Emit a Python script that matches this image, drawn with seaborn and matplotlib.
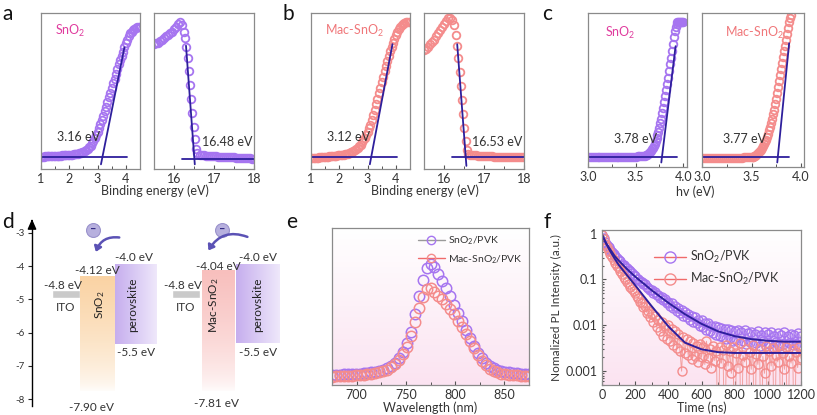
import numpy as np
import matplotlib
matplotlib.use("Agg")
import matplotlib.pyplot as plt
import seaborn as sns
from matplotlib.lines import Line2D
from matplotlib.patches import FancyArrowPatch
from matplotlib.colors import LinearSegmentedColormap
from matplotlib.ticker import MultipleLocator, NullFormatter

sns.set_theme(style="white")
plt.rcParams['font.family'] = ['Lato', 'DejaVu Sans']
plt.rcParams['mathtext.default'] = 'regular'

PURPLE = "#A675F0"
PINK = "#F48C8C"
FIT = "#2E1F9C"
MAGENTA = "#E03C9E"
SALMON = "#F0777A"
TXT = "#333333"
SPINE = "#8a8a8a"
W, H = 817, 415

# ---------------- data ----------------
# a/b: UPS valence band edge (left, 1.00..4.50 eV every 0.05)
be_low = np.round(np.arange(1.0, 4.501, 0.05), 2)
a_low = [.080, .080, .080, .081, .081, .082, .082, .083, .083, .084, .084, .085, .085, .086,
         .086, .087, .088, .088, .089, .09, .09, .091, .092, .093, .095, .097, .099,
         .102, .105, .108, .112, .117, .123, .13, .14, .15, .165, .18, .2, .22, .24, .265,
         .29, .315, .34, .37, .4, .43, .46, .49, .52, .55, .58, .61, .64, .67, .7, .725,
         .75, .78, .81, .83, .85, .87, .88, .89, .9, .905, .91, .91, .91]
b_low = [.07, .07, .07, .071, .072, .073, .074, .075, .076, .077, .078, .079, .08, .081,
         .082, .083, .084, .085, .086, .087, .088, .089, .09, .092, .094, .096, .099,
         .102, .106, .11, .115, .12, .127, .135, .145, .157, .17, .185, .2, .215, .235, .26,
         .285, .315, .345, .38, .415, .45, .485, .52, .555, .59, .625, .66, .695, .725, .755,
         .785, .81, .835, .86, .88, .895, .91, .92, .93, .935, .94, .94, .94, .94]
# secondary electron cutoff (right)
a_be_high = np.round(np.concatenate([np.arange(15.5, 16.26, 0.05), np.arange(16.28, 16.59, 0.03),
                                     np.arange(16.65, 18.01, 0.05)]), 2)
a_high = [.8, .805, .81, .82, .83, .84, .85, .86, .87, .88, .895, .91, .93, .94, .92, .88,
          .84, .78, .71, .63, .54, .45, .36, .27, .19, .13, .1,
          .09, .088, .087, .086, .085, .084, .083, .082, .081, .08, .08, .079, .078, .077,
          .076, .076, .075, .074, .073, .072, .072, .071, .07, .07, .069, .068, .067, .066]
b_be_high = np.round(np.concatenate([np.arange(15.5, 16.26, 0.05), np.arange(16.30, 16.61, 0.03),
                                     np.arange(16.65, 18.01, 0.05)]), 2)
b_high = [.76, .77, .785, .8, .815, .83, .85, .87, .89, .91, .93, .95, .965, .97, .955, .92,
          .86, .79, .71, .62, .53, .44, .35, .26, .18, .12, .095,
          .09, .089, .088, .087, .086, .085, .085, .084, .083, .082, .082, .081, .08, .08,
          .079, .079, .078, .078, .077, .077, .076, .076, .076, .075, .075, .075, .075, .075]
# fitted tangents [x0, x1], [y0, y1]
a_fit_low = ([3.12, 3.95], [0.03, 0.78]); a_base_low = ([1.0, 4.05], [0.075, 0.075])
a_fit_high = ([16.3, 16.52], [0.79, 0.03]); a_base_high = ([16.2, 18.0], [0.065, 0.065])
b_fit_low = ([3.08, 3.88], [0.03, 0.8]); b_base_low = ([1.0, 4.05], [0.08, 0.08])
b_fit_high = ([16.33, 16.56], [0.8, 0.02]); b_base_high = ([16.2, 18.0], [0.075, 0.075])

# c: Tauc plots
hv_sno2 = np.round(np.concatenate([np.arange(3.0, 3.59, 0.02), np.arange(3.60, 4.001, 0.01)]), 2)
ahv_sno2 = [.063, .063, .063, .063, .063, .063, .063, .064, .064, .064, .064, .064, .064, .065, .065,
            .065, .065, .065, .066, .066, .066, .067, .067, .068, .068, .069, .07, .071, .072, .073,
            .075, .078, .082, .087, .093, .1, .108, .117, .127, .14, .155, .172, .19, .21, .235, .26,
            .29, .32, .355, .39, .43, .47, .51, .55, .59, .635, .68, .725, .77, .815, .86, .9, .93, .95,
            .96, .96, .96, .96, .96, .96, .96]
hv_mac = np.round(np.concatenate([np.arange(3.0, 3.501, 0.02), np.arange(3.51, 3.901, 0.01)]), 2)
ahv_mac = [.058, .058, .058, .058, .058, .059, .059, .059, .059, .059, .06, .06, .06, .06, .06, .061,
           .061, .061, .062, .062, .062, .063, .063, .064, .064, .065,
           .065, .068, .071, .075, .08, .085, .09, .097, .105, .115, .125, .137, .15, .165, .18, .2,
           .22, .243, .265, .29, .32, .35, .38, .415, .45, .49, .53, .57, .61, .65, .69, .73, .77,
           .8, .84, .88, .92, .96, .99, 1.01]
c_fit_sno2 = ([3.77, 3.92], [0.03, 0.8]); c_base_sno2 = ([3.0, 3.93], [0.065, 0.065])
c_fit_mac = ([3.76, 3.88], [0.03, 0.82]); c_base_mac = ([3.0, 3.88], [0.065, 0.065])

# d: energy levels (drawn positions, eV)
ito_x = [[52, 80], [172, 200]]; ito_level = [-4.72, -4.96]
etl_x = [[80, 115], [202, 235]]; etl_top = [-4.33, -4.14]; etl_bot = [-7.8, -7.8]
pvk_x = [[115, 157], [236, 280]]; pvk_top = [-3.96, -3.96]; pvk_bot = [-6.34, -6.31]
etl_cols = ["#FAD3A4", "#F8BFBD"]
etl_names = ["SnO$_2$", "Mac-SnO$_2$"]
cb_labels = ["-4.12 eV", "-4.04 eV"]
vb_labels = ["-7.90 eV", "-7.81 eV"]

# e: steady-state PL (675..875 nm every 4 nm)
wl = np.arange(675, 876, 4)
pl_sno2 = [.064, .065, .066, .068, .069, .07, .072, .073, .075, .077, .08, .084, .09, .098, .108,
           .122, .142, .17, .21, .265, .34, .45, .57, .67, .745, .77, .75, .71, .665, .615, .565,
           .51, .46, .405, .35, .3, .25, .205, .17, .142, .122, .108, .098, .09, .084, .08, .077,
           .074, .072, .07, .068]
pl_mac = [.054, .055, .056, .057, .058, .06, .061, .063, .065, .067, .07, .074, .08, .088, .098,
          .112, .132, .16, .195, .245, .31, .4, .49, .56, .61, .62, .595, .57, .545, .515, .485,
          .45, .41, .37, .325, .28, .235, .19, .155, .125, .105, .09, .08, .073, .068, .065, .062,
          .061, .06, .059, .058]

# f: TRPL (0..1200 ns every 10 ns)
t_ns = np.arange(0, 1201, 10)
trpl_sno2 = [.95, .8, .66, .57, .5, .44, .4, .36, .32, .3,
             .27, .25, .22, .21, .19, .175, .16, .15, .14, .125,
             .12, .105, .1, .095, .088, .08, .078, .07, .066, .06,
             .06, .052, .053, .045, .046, .04, .042, .035, .037, .031,
             .033, .027, .03, .024, .027, .021, .024, .019, .022, .016,
             .02, .015, .018, .013, .016, .012, .015, .011, .013, .0095,
             .013, .009, .011, .0078, .011, .0075, .0098, .0068, .0095, .0062,
             .009, .006, .0088, .0055, .0082, .005, .0085, .0052, .0078, .0046,
             .0075, .0048, .008, .0042, .0072, .0045, .0078, .004, .0068, .0044,
             .0072, .0038, .0065, .0042, .0075, .0036, .0062, .0045, .007, .0035,
             .0066, .004, .0072, .0034, .006, .0043, .0068, .0036, .0062, .004,
             .0071, .0033, .0058, .0042, .0066, .0037, .0063, .0039, .0067, .0035, .006]
trpl_mac = [.95, .75, .6, .5, .42, .36, .31, .27, .23, .2,
            .18, .15, .135, .115, .1, .09, .08, .07, .062, .055,
            .05, .043, .04, .033, .031, .025, .026, .019, .021, .015,
            .018, .012, .016, .009, .013, .0075, .012, .006, .0095, .005,
            .01, .0045, .0085, .0038, .0075, .0032, .0065, .0028, .001, .0055,
            .0025, .005, .0022, .0045, .0018, .0042, .0021, .0036, .0016, .0039,
            .002, .0034, .0014, .0045, .0019, .003, .0012, .0036, .0017, .0028,
            1e-5, .0033, .0015, .0029, 1e-5, .0038, .0013, .0027, .0009, .0034,
            1e-5, .0025, .0012, .0041, 1e-5, .0022, .0016, .0031, 1e-5, .0026,
            .0011, .0037, 1e-5, .0024, .0014, .003, 1e-5, .0021, .0009, .0035,
            1e-5, .0027, .0013, .0032, 1e-5, .0023, .0016, .0038, 1e-5, .0025,
            .0011, .0033, 1e-5, .0021, .0015, .003, 1e-5, .0026, .0012, .0034, .0019]
t_fit = [0, 25, 50, 75, 100, 150, 200, 250, 300, 400, 500, 600, 700, 800, 900, 1000, 1100, 1200]
fit_sno2 = [.95, .62, .45, .33, .26, .17, .115, .082, .058, .031, .0175, .0108, .0074, .0058, .005, .0046, .0044, .0044]
fit_mac = [.95, .6, .41, .29, .21, .125, .075, .044, .026, .0095, .0042, .003, .0026, .0025, .0025, .0025, .0025, .0025]

# ---------------- helpers ----------------
fig = plt.figure(figsize=(W / 100, H / 100), dpi=100)


def add_ax(x0, y0, x1, y1, **kw):
    return fig.add_axes([x0 / W, 1 - y1 / H, (x1 - x0) / W, (y1 - y0) / H], **kw)


def frame(ax):
    for s in ax.spines.values():
        s.set_color(SPINE)
        s.set_linewidth(0.9)
    ax.tick_params(axis="x", direction="in", length=3, width=0.8, color="#555555",
                   labelsize=9, labelcolor=TXT, pad=3, bottom=True)
    ax.tick_params(axis="x", which="minor", direction="in", length=2, width=0.7,
                   color="#555555", bottom=True)
    ax.set_yticks([])
    ax.patch.set_alpha(0)


def rings(ax, x, y, color, ms=5.5, mew=1.3, line=None):
    sns.lineplot(x=x, y=y, ax=ax, color=line if line else color, marker="o",
                 linestyle="-" if line else "none", lw=0.7, mfc="none", mec=color,
                 ms=ms, mew=mew, errorbar=None)


def fitline(ax, xy, lw=1.3):
    sns.lineplot(x=xy[0], y=xy[1], ax=ax, color=FIT, lw=lw, errorbar=None)


def gradient_bg(x0, y0, x1, y1):
    bg = add_ax(x0, y0, x1, y1, zorder=-1)
    cm = LinearSegmentedColormap.from_list("bg", ["#FFFFFF", "#FBE3F1"])
    bg.imshow(np.linspace(0, 1, 100)[:, None], cmap=cm, aspect="auto",
              extent=[0, 1, 0, 1], origin="upper")
    bg.axis("off")


# ---------------- a & b ----------------
panels_ab = [
    (0, a_low, a_be_high, a_high, PURPLE, "SnO$_2$", MAGENTA, "3.16 eV", "16.48 eV",
     a_fit_low, a_base_low, a_fit_high, a_base_high),
    (270, b_low, b_be_high, b_high, PINK, "Mac-SnO$_2$", SALMON, "3.12 eV", "16.53 eV",
     b_fit_low, b_base_low, b_fit_high, b_base_high),
]
for off, ylow, xhigh, yhigh, col, name, ncol, t1, t2, fl, bl, fh, bh in panels_ab:
    axl = add_ax(41 + off, 13, 140 + off, 169)
    axr = add_ax(154 + off, 13, 254 + off, 169)
    for ax in (axl, axr):
        frame(ax)
        ax.set_ylim(0, 1.0)
    rings(axl, be_low, ylow, col)
    fitline(axl, fl)
    fitline(axl, bl)
    axl.set_xlim(1, 4.5)
    axl.xaxis.set_major_locator(MultipleLocator(1))
    axl.xaxis.set_minor_locator(MultipleLocator(0.5))
    rings(axr, xhigh, yhigh, col)
    fitline(axr, fh)
    fitline(axr, bh)
    axr.set_xlim(15.5, 18)
    axr.set_xticks([16, 17, 18])
    axr.xaxis.set_minor_locator(MultipleLocator(0.5))
    axl.set_ylabel("Intensity (a.u.)", fontsize=8.5, color=TXT, labelpad=3)
    axl.set_xlabel("")
    axr.set_xlabel("")
    axr.set_ylabel("")
    axl.text(1.5, 0.86, name, color=ncol, fontsize=9)
    axl.text(1.55, 0.18, t1, color=TXT, fontsize=9)
    axr.text(16.7, 0.15, t2, color=TXT, fontsize=9)
    fig.text((155 + off) / W, 1 - 191 / H, "Binding energy (eV)", ha="center",
             va="center", fontsize=9, color=TXT)

# ---------------- c ----------------
axc1 = add_ax(588, 13, 687, 167)
axc2 = add_ax(702, 13, 804, 167)
for ax, x, y, col, name, ncol, fit, base, lab, xmax in [
        (axc1, hv_sno2, ahv_sno2, PURPLE, "SnO$_2$", MAGENTA, c_fit_sno2, c_base_sno2, "3.78 eV", 4.04),
        (axc2, hv_mac, ahv_mac, PINK, "Mac-SnO$_2$", SALMON, c_fit_mac, c_base_mac, "3.77 eV", 4.03)]:
    frame(ax)
    rings(ax, x, y, col)
    fitline(ax, fit)
    fitline(ax, base)
    ax.set_xlim(3.0, xmax)
    ax.set_ylim(0, 1.02)
    ax.set_xticks([3.0, 3.5, 4.0])
    ax.set_xticklabels(["3.0", "3.5", "4.0"])
    ax.xaxis.set_minor_locator(MultipleLocator(0.25))
    ax.set_xlabel("")
    ax.set_ylabel("")
    ax.text(3.18 if ax is axc1 else 3.23, 0.86, name, color=ncol, fontsize=9)
    ax.text(3.27 if ax is axc1 else 3.21, 0.16, lab, color=TXT, fontsize=9)
axc1.set_ylabel("(αhv)² (a.u.)", fontsize=8.5, color=TXT, labelpad=3)
fig.text(695 / W, 1 - 192 / H, "hv (eV)", ha="center", va="center", fontsize=9, color=TXT)

# ---------------- d ----------------
axd = add_ax(0, 205, 280, 415)
axd.patch.set_alpha(0)
for s in ["top", "right", "bottom"]:
    axd.spines[s].set_visible(False)
axd.spines["left"].set_position(("data", 32))
axd.spines["left"].set_bounds(-8.2, -2.7)
axd.spines["left"].set_color("black")
axd.spines["left"].set_linewidth(1.0)
axd.set_xticks([])
axd.set_yticks([-3, -4, -5, -6, -7, -8])
axd.set_yticklabels(["-3", "-4", "-5", "-6", "-7", "-8"])
axd.tick_params(axis="y", direction="out", length=3, width=0.8, labelsize=7,
                labelcolor=TXT, left=True, pad=2)
axd.annotate("", xy=(32, -2.5), xytext=(32, -2.75),
             arrowprops=dict(arrowstyle="-|>,head_length=0.5,head_width=0.22",
                             color="black", lw=1.0))

for i in range(2):
    # ITO
    axd.bar((ito_x[i][0] + ito_x[i][1]) / 2, ito_level[1] - ito_level[0],
            bottom=ito_level[0], width=ito_x[i][1] - ito_x[i][0], color="#CACACA",
            zorder=2)
    # ETL vertical fade
    cm = LinearSegmentedColormap.from_list("etl", ["#FFFFFF", etl_cols[i]])
    axd.imshow(np.linspace(1, 0, 100)[:, None] ** 0.6, cmap=cm, aspect="auto",
               extent=[etl_x[i][0], etl_x[i][1], etl_bot[i], etl_top[i]],
               origin="upper", zorder=2, vmin=0, vmax=1)
    # perovskite horizontal fade
    cm2 = LinearSegmentedColormap.from_list("pvk", ["#F3EEFC", "#C6AEEE"])
    axd.imshow(np.linspace(1, 0.1, 100)[None, :], cmap=cm2, aspect="auto",
               extent=[pvk_x[i][0], pvk_x[i][1], pvk_bot[i], pvk_top[i]],
               origin="upper", zorder=2, vmin=0, vmax=1)
    xc_etl = (etl_x[i][0] + etl_x[i][1]) / 2
    xc_pvk = (pvk_x[i][0] + pvk_x[i][1]) / 2
    xc_ito = (ito_x[i][0] + ito_x[i][1]) / 2
    axd.text(xc_ito - 3, -4.57, "-4.8 eV", ha="center", va="center", fontsize=8.5, color=TXT, zorder=3)
    axd.text(xc_ito, -5.23, "ITO", ha="center", va="center", fontsize=8.5, color=TXT, zorder=3)
    axd.text(xc_etl, etl_top[i] + 0.19 if i == 0 else -4.0, cb_labels[i], ha="center",
             va="center", fontsize=8.5, color=TXT, zorder=3)
    axd.text(xc_pvk - (2 if i == 0 else 0), -3.75, "-4.0 eV", ha="center", va="center",
             fontsize=8.5, color=TXT, zorder=3)
    axd.text(xc_pvk, -6.61, "-5.5 eV", ha="center", va="center", fontsize=8.5, color=TXT, zorder=3)
    axd.text(xc_etl - 6 if i == 0 else xc_etl - 2, -8.24 if i == 0 else -8.12, vb_labels[i],
             ha="center", va="center", fontsize=8.5, color=TXT, zorder=3)
    axd.text(xc_etl + (3 if i == 0 else -4), -5.17, etl_names[i], rotation=90, ha="center",
             va="center", fontsize=8.5, color="#222222", zorder=3)
    axd.text(xc_pvk - (3 if i == 0 else 0), -5.17, "perovskite", rotation=90, ha="center",
             va="center", fontsize=8.5, color="#222222", zorder=3)

# electrons and transfer arrows
e_pos = [(93, -2.91), (222, -2.91)]
arrows = [((122, -3.15), (95, -3.65)), ((250, -3.15), (207, -3.6))]
for (ex, ey), (p0, p1) in zip(e_pos, arrows):
    axd.plot(ex, ey, "o", ms=10, mfc="#B7B0DE", mec="#9A92CC", mew=0.8, zorder=4)
    axd.text(ex, ey + 0.02, "–", ha="center", va="center", fontsize=8, color="#2E2680", zorder=5,
             fontweight="bold")
    axd.add_patch(FancyArrowPatch(p0, p1, connectionstyle="arc3,rad=0.45",
                                  arrowstyle="-|>,head_length=3,head_width=2.2",
                                  color="#5B52B5", lw=1.8, zorder=4))
axd.set_xlim(0, 280)
axd.set_ylim(-8.48, -2.16)

# ---------------- e ----------------
gradient_bg(332, 228, 529, 385)
axe = add_ax(332, 228, 529, 385)
frame(axe)
rings(axe, wl, pl_sno2, PURPLE, ms=7.5, mew=1.1)
rings(axe, wl, pl_mac, PINK, ms=7.5, mew=1.1)
axe.set_xlim(675, 875)
axe.set_ylim(0, 1.0)
axe.set_xticks([700, 750, 800, 850])
axe.xaxis.set_minor_locator(MultipleLocator(25))
axe.set_xlabel("Wavelength (nm)", fontsize=9, color=TXT, labelpad=0)
axe.set_ylabel("PL Intensity (a.u.)", fontsize=8.5, color=TXT, labelpad=4)
h_e = [Line2D([], [], color="#9A9A9A", lw=1, marker="o", mfc="none", mec=PURPLE, ms=6),
       Line2D([], [], color="#F06A6A", lw=1, marker="o", mfc="none", mec=PINK, ms=6)]
axe.legend(h_e, ["SnO$_2$/PVK", "Mac-SnO$_2$/PVK"], loc="upper right", frameon=False,
           fontsize=7.5, handlelength=2.6, handletextpad=0.3, labelspacing=0.6,
           borderaxespad=0.2, labelcolor=TXT)

# ---------------- f ----------------
gradient_bg(602, 230, 801, 385)
axf = add_ax(602, 230, 801, 385)
frame(axf)
axf.set_yscale("log")
rings(axf, t_ns, trpl_sno2, PURPLE, ms=6.5, mew=1.0, line="#C9A8F5")
rings(axf, t_ns, trpl_mac, PINK, ms=6.5, mew=1.0, line="#F3A0A0")
sns.lineplot(x=t_fit, y=fit_sno2, ax=axf, color=FIT, lw=1.4, errorbar=None)
sns.lineplot(x=t_fit, y=fit_mac, ax=axf, color=FIT, lw=1.4, errorbar=None)
axf.set_xlim(0, 1200)
axf.set_ylim(5e-4, 1.2)
axf.set_xticks(range(0, 1201, 200))
axf.xaxis.set_minor_locator(MultipleLocator(100))
axf.set_yticks([1e-3, 1e-2, 1e-1, 1])
axf.set_yticklabels(["0.001", "0.01", "0.1", "1"])
axf.yaxis.set_minor_formatter(NullFormatter())
axf.tick_params(axis="y", which="both", direction="in", left=True, labelsize=9,
                labelcolor=TXT, color="#555555", width=0.8)
axf.tick_params(axis="y", which="major", length=3)
axf.tick_params(axis="y", which="minor", length=1.5)
axf.set_xlabel("Time (ns)", fontsize=9, color=TXT, labelpad=0)
axf.set_ylabel("Nomalized PL Intensity (a.u.)", fontsize=8.5, color=TXT, labelpad=2)
h_f = [Line2D([], [], color="#F06A6A", lw=1, marker="o", mfc="none", mec=PURPLE, ms=8),
       Line2D([], [], color="#F06A6A", lw=1, marker="o", mfc="none", mec=PINK, ms=8)]
axf.legend(h_f, ["SnO$_2$/PVK", "Mac-SnO$_2$/PVK"], loc="upper right", frameon=False,
           fontsize=9, handlelength=2.6, handletextpad=0.3, labelspacing=0.5,
           bbox_to_anchor=(0.95, 0.95), labelcolor=TXT)

# ---------------- panel letters ----------------
for lx, ly, letter in [(2, 4, "a"), (283, 4, "b"), (542, 4, "c"),
                       (2, 212, "d"), (286, 212, "e"), (543, 212, "f")]:
    fig.text(lx / W, 1 - ly / H, letter, fontsize=15, va="top", ha="left", color="#111111")

fig.savefig("out.png", dpi=100)
